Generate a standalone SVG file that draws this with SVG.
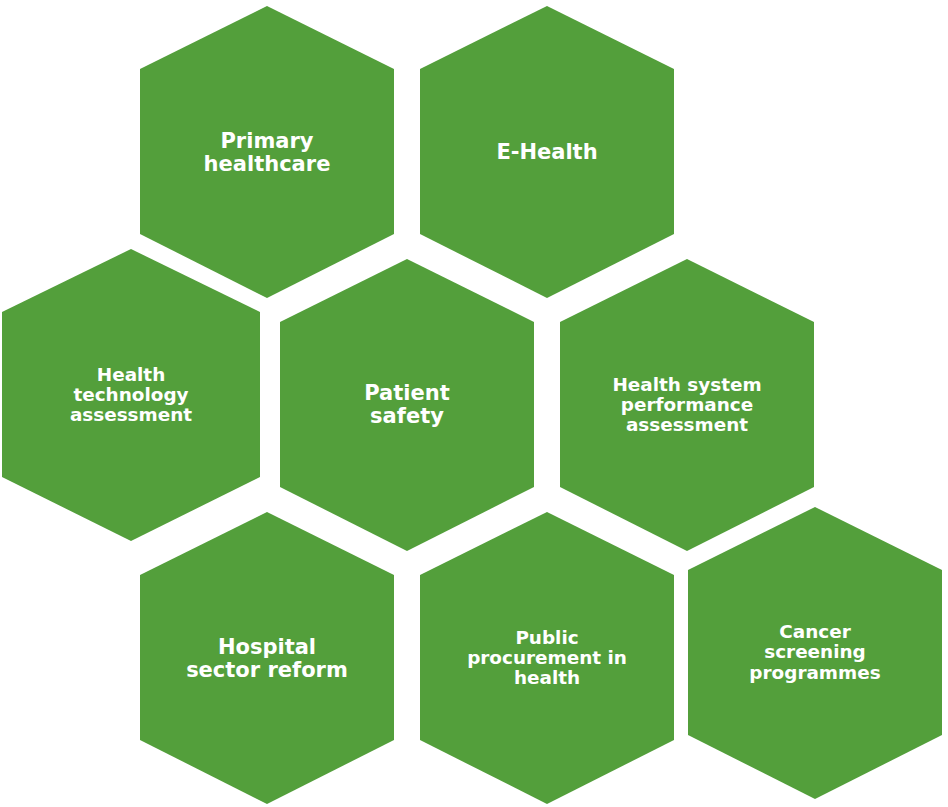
<svg xmlns="http://www.w3.org/2000/svg" width="948" height="807" viewBox="0 0 948 807">
<style>
.hex{fill:#539F3B}
.big{font-family:"DejaVu Sans",Verdana,sans-serif;font-weight:bold;font-size:21px;fill:#ffffff;text-anchor:middle}
.sm{font-family:"DejaVu Sans",Verdana,sans-serif;font-weight:bold;font-size:18.4px;fill:#ffffff;text-anchor:middle}
</style>
<rect width="948" height="807" fill="#ffffff"/>
<g id="primary-healthcare">
<polygon class="hex" points="267,6 394,69 394,234 267,298 140,234 140,69"/>
<text class="big" x="267" y="148">Primary</text>
<text class="big" x="267" y="171">healthcare</text>
</g>
<g id="e-health">
<polygon class="hex" points="547,6 674,69 674,234 547,298 420,234 420,69"/>
<text class="big" x="547" y="159">E-Health</text>
</g>
<g id="health-technology-assessment">
<polygon class="hex" points="131,249 260,312 260,477 131,541 2,477 2,312"/>
<text class="sm" x="131" y="381">Health</text>
<text class="sm" x="131" y="401">technology</text>
<text class="sm" x="131" y="421">assessment</text>
</g>
<g id="patient-safety">
<polygon class="hex" points="407,259 534,322 534,487 407,551 280,487 280,322"/>
<text class="big" x="407" y="400">Patient</text>
<text class="big" x="407" y="423">safety</text>
</g>
<g id="health-system-performance-assessment">
<polygon class="hex" points="687,259 814,322 814,487 687,551 560,487 560,322"/>
<text class="sm" x="687" y="391">Health system</text>
<text class="sm" x="687" y="411">performance</text>
<text class="sm" x="687" y="431">assessment</text>
</g>
<g id="hospital-sector-reform">
<polygon class="hex" points="267,512 394,575 394,740 267,804 140,740 140,575"/>
<text class="big" x="267" y="654">Hospital</text>
<text class="big" x="267" y="677">sector reform</text>
</g>
<g id="public-procurement">
<polygon class="hex" points="547,512 674,575 674,740 547,804 420,740 420,575"/>
<text class="sm" x="547" y="644">Public</text>
<text class="sm" x="547" y="664">procurement in</text>
<text class="sm" x="547" y="684">health</text>
</g>
<g id="cancer-screening">
<polygon class="hex" points="815,507 942,570 942,735 815,799 688,735 688,570"/>
<text class="sm" x="815" y="638">Cancer</text>
<text class="sm" x="815" y="658">screening</text>
<text class="sm" x="815" y="679">programmes</text>
</g>
<g id="connectors"></g>
</svg>
